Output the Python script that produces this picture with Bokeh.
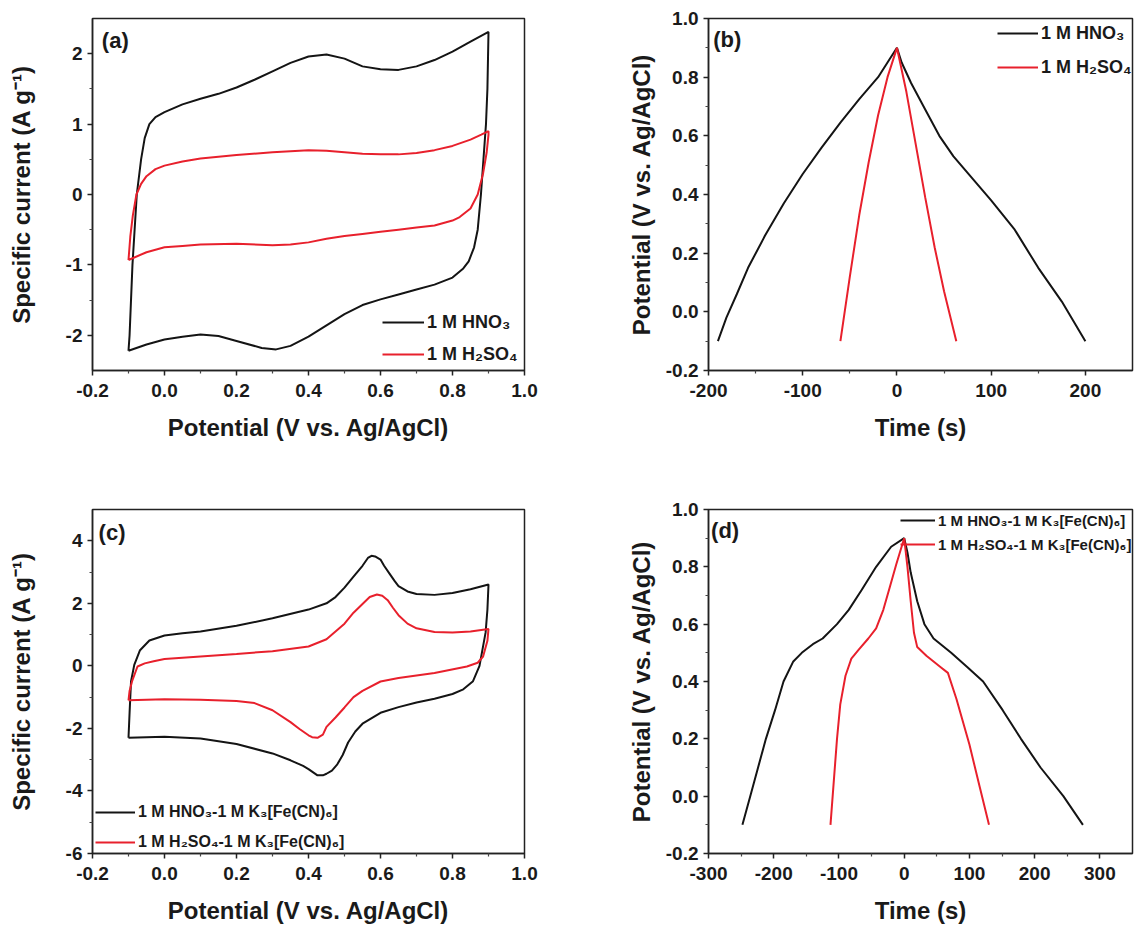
from bokeh.plotting import figure
from bokeh.models import (Range1d, FixedTicker, PrintfTickFormatter, Legend, LegendItem, Label)
from bokeh.layouts import column, row
from bokeh.embed import file_html
from bokeh.resources import INLINE

# ---------------- data ----------------
# (a) CV in acids
a_hno3_v = [-0.1, -0.097, -0.089, -0.077, -0.065, -0.055, -0.042, -0.025, 0.0, 0.05, 0.1, 0.15, 0.2, 0.25, 0.3,
            0.35, 0.4, 0.45, 0.5, 0.55, 0.6, 0.65, 0.7, 0.75, 0.8, 0.85, 0.9,
            0.897, 0.893, 0.886, 0.879, 0.87, 0.86, 0.845, 0.83, 0.8, 0.75, 0.7, 0.65, 0.6, 0.55, 0.5, 0.45, 0.4,
            0.35, 0.31, 0.27, 0.2, 0.15, 0.1, 0.05, 0.0, -0.05, -0.1]
a_hno3_i = [-2.22, -2.0, -1.0, 0.0, 0.5, 0.8, 1.0, 1.1, 1.17, 1.28, 1.36, 1.43, 1.52, 1.63, 1.75,
            1.87, 1.96, 1.99, 1.93, 1.82, 1.78, 1.77, 1.82, 1.91, 2.03, 2.17, 2.31,
            1.5, 1.0, 0.5, 0.0, -0.5, -0.75, -0.95, -1.05, -1.18, -1.28, -1.35, -1.42, -1.49, -1.57, -1.7, -1.86, -2.02,
            -2.15, -2.2, -2.18, -2.08, -2.01, -1.99, -2.02, -2.06, -2.13, -2.22]
a_h2so4_v = [-0.1, -0.095, -0.088, -0.078, -0.065, -0.05, -0.025, 0.0, 0.05, 0.1, 0.2, 0.3, 0.4, 0.45, 0.5, 0.55,
             0.6, 0.65, 0.7, 0.75, 0.8, 0.85, 0.88, 0.9,
             0.9, 0.895, 0.885, 0.87, 0.85, 0.82, 0.8, 0.75, 0.7, 0.65, 0.6, 0.55, 0.5, 0.45, 0.4, 0.35, 0.3,
             0.2, 0.1, 0.05, 0.0, -0.05, -0.1]
a_h2so4_i = [-0.93, -0.6, -0.3, 0.0, 0.15, 0.26, 0.36, 0.41, 0.47, 0.51, 0.56, 0.6, 0.63, 0.62, 0.6, 0.58,
             0.57, 0.57, 0.59, 0.63, 0.69, 0.78, 0.85, 0.9,
             0.85, 0.6, 0.3, 0.0, -0.2, -0.32, -0.37, -0.44, -0.47, -0.5, -0.53, -0.56, -0.59, -0.63, -0.68, -0.71, -0.72,
             -0.7, -0.71, -0.73, -0.75, -0.82, -0.93]

# (b) GCD in acids
b_hno3_t = [-190, -181, -170, -158, -140, -120, -100, -80, -60, -40, -20, -8, 0,
            5, 15, 30, 45, 60, 80, 100, 125, 150, 175, 200]
b_hno3_e = [-0.1, -0.02, 0.06, 0.15, 0.26, 0.37, 0.47, 0.56, 0.645, 0.725, 0.8, 0.86, 0.9,
            0.85, 0.78, 0.69, 0.6, 0.53, 0.455, 0.38, 0.28, 0.15, 0.035, -0.1]
b_h2so4_t = [-60, -50, -40, -30, -20, -10, 0, 10, 20, 30, 40, 50, 63]
b_h2so4_e = [-0.1, 0.12, 0.33, 0.51, 0.67, 0.8, 0.9, 0.75, 0.57, 0.39, 0.22, 0.07, -0.1]

# (c) CV with K3[Fe(CN)6]
c_hno3_v = [-0.1, -0.097, -0.093, -0.084, -0.068, -0.042, 0.0, 0.05, 0.1, 0.2, 0.3, 0.4, 0.45, 0.475, 0.5,
            0.525, 0.55, 0.565, 0.575, 0.585, 0.6, 0.61, 0.625, 0.64, 0.65, 0.675, 0.7, 0.75, 0.8, 0.85, 0.9,
            0.897, 0.892, 0.875, 0.857, 0.83, 0.8, 0.75, 0.7, 0.65, 0.6, 0.55, 0.53, 0.51, 0.495, 0.48,
            0.465, 0.45, 0.44, 0.425, 0.415, 0.4, 0.385, 0.35, 0.3, 0.2, 0.1, 0.0, -0.1]
c_hno3_i = [-2.3, -1.5, -0.5, 0.03, 0.5, 0.81, 0.97, 1.04, 1.1, 1.28, 1.52, 1.8, 2.0, 2.2, 2.5,
            2.85, 3.2, 3.45, 3.52, 3.5, 3.4, 3.2, 2.95, 2.7, 2.55, 2.38, 2.3, 2.27, 2.33, 2.45, 2.6,
            1.8, 1.07, 0.0, -0.49, -0.75, -0.9, -1.05, -1.17, -1.32, -1.5, -1.85, -2.1, -2.45, -2.85, -3.15,
            -3.35, -3.45, -3.5, -3.5, -3.42, -3.3, -3.2, -3.02, -2.8, -2.5, -2.32, -2.27, -2.3]
c_h2so4_v = [-0.1, -0.097, -0.09, -0.075, -0.055, -0.03, 0.0, 0.1, 0.2, 0.3, 0.4, 0.45, 0.5, 0.525, 0.55,
             0.57, 0.59, 0.605, 0.62, 0.635, 0.65, 0.675, 0.7, 0.75, 0.8, 0.85, 0.9,
             0.897, 0.885, 0.87, 0.84, 0.75, 0.65, 0.6, 0.55, 0.525, 0.5, 0.475, 0.45, 0.44, 0.425, 0.41,
             0.4, 0.375, 0.35, 0.3, 0.25, 0.2, 0.1, 0.0, -0.1]
c_h2so4_i = [-1.1, -0.8, -0.49, -0.02, 0.08, 0.15, 0.22, 0.3, 0.38, 0.47, 0.62, 0.85, 1.35, 1.7, 1.98,
             2.2, 2.28, 2.24, 2.1, 1.85, 1.62, 1.35, 1.2, 1.08, 1.07, 1.1, 1.18,
             0.8, 0.3, 0.1, -0.02, -0.23, -0.39, -0.5, -0.8, -1.0, -1.33, -1.65, -1.95, -2.2, -2.3, -2.28,
             -2.22, -2.02, -1.8, -1.42, -1.19, -1.12, -1.08, -1.07, -1.1]

# (d) GCD with K3[Fe(CN)6]
d_hno3_t = [-248, -236, -224, -212, -198, -185, -170, -157, -140, -125, -103, -85, -65, -43, -20, 0,
            5, 10, 20, 31, 45, 72, 97, 121, 151, 179, 209, 244, 274]
d_hno3_e = [-0.1, 0.0, 0.1, 0.2, 0.3, 0.4, 0.47, 0.5, 0.53, 0.55, 0.6, 0.65, 0.72, 0.8, 0.87, 0.9,
            0.85, 0.78, 0.68, 0.6, 0.55, 0.5, 0.45, 0.4, 0.3, 0.2, 0.1, 0.0, -0.1]
d_h2so4_t = [-113, -108, -103, -98, -90, -81, -70, -55, -43, -32, -22, -12, 0,
             5, 10, 15, 20, 34, 56, 67, 80, 100, 116, 130]
d_h2so4_e = [-0.1, 0.05, 0.2, 0.32, 0.42, 0.48, 0.51, 0.55, 0.585, 0.65, 0.73, 0.81, 0.9,
             0.8, 0.68, 0.57, 0.52, 0.49, 0.45, 0.43, 0.34, 0.18, 0.03, -0.1]

# ticks / labels
cv_x_ticks = [-0.2, 0.0, 0.2, 0.4, 0.6, 0.8, 1.0]
a_y_ticks = [-2, -1, 0, 1, 2]
c_y_ticks = [-6, -4, -2, 0, 2, 4]
gcd_y_ticks = [-0.2, 0.0, 0.2, 0.4, 0.6, 0.8, 1.0]
b_x_ticks = [-200, -100, 0, 100, 200]
d_x_ticks = [-300, -200, -100, 0, 100, 200, 300]

lab_hno3 = "1 M HNO\u2083"
lab_h2so4 = "1 M H\u2082SO\u2084"
lab_hno3_fe = "1 M HNO\u2083-1 M K\u2083[Fe(CN)\u2086]"
lab_h2so4_fe = "1 M H\u2082SO\u2084-1 M K\u2083[Fe(CN)\u2086]"
xlab_cv = "Potential (V vs. Ag/AgCl)"
ylab_cv = "Specific current (A g\u207b\u00b9)"
xlab_gcd = "Time (s)"
ylab_gcd = "Potential (V vs. Ag/AgCl)"

FONT = "Liberation Sans"
BLACK = "#141414"
RED = "#e8202c"


def minor(ticks, n=2):
    out = []
    step = (ticks[1] - ticks[0]) / n
    for t in ticks[:-1]:
        for k in range(1, n):
            out.append(t + k * step)
    return out


def make_fig(width, height, xr, yr, xticks, yticks, xfmt, yfmt, xlab, ylab,
             bl, br, bt, bb, ylab_standoff, xlab_standoff):
    p = figure(width=width, height=height, x_range=Range1d(*xr), y_range=Range1d(*yr),
               output_backend="svg", toolbar_location=None,
               min_border_left=bl, min_border_right=br, min_border_top=bt, min_border_bottom=bb)
    p.xgrid.visible = False
    p.ygrid.visible = False
    p.outline_line_color = "#222222"
    p.outline_line_width = 1.5
    p.background_fill_color = "white"
    p.border_fill_color = "white"
    p.xaxis.ticker = FixedTicker(ticks=xticks, minor_ticks=minor(xticks))
    p.yaxis.ticker = FixedTicker(ticks=yticks, minor_ticks=minor(yticks))
    p.xaxis.formatter = PrintfTickFormatter(format=xfmt)
    p.yaxis.formatter = PrintfTickFormatter(format=yfmt)
    for ax in (p.xaxis, p.yaxis):
        ax.axis_line_width = 1.5
        ax.axis_line_color = "#222222"
        ax.major_tick_line_width = 1.5
        ax.minor_tick_line_width = 1.2
        ax.major_tick_line_color = "#222222"
        ax.minor_tick_line_color = "#444444"
        ax.major_tick_in = 0
        ax.major_tick_out = 5
        ax.minor_tick_in = 0
        ax.minor_tick_out = 3
        ax.major_label_text_font = FONT
        ax.major_label_text_font_style = "bold"
        ax.major_label_text_font_size = "19px"
        ax.major_label_text_color = "#1a1a1a"
        ax.major_label_standoff = 5
        ax.axis_label_text_font = FONT
        ax.axis_label_text_font_style = "bold"
        ax.axis_label_text_font_size = "24px"
        ax.axis_label_text_color = "#1a1a1a"
    p.xaxis.major_label_standoff = 8
    p.xaxis.axis_label = xlab
    p.yaxis.axis_label = ylab
    p.yaxis.axis_label_standoff = ylab_standoff
    p.xaxis.axis_label_standoff = xlab_standoff
    return p


def add_legend(p, items, loc, glyph_w, item_h, spacing, fsize):
    leg = Legend(items=items, location=loc, glyph_width=glyph_w, glyph_height=item_h,
                 label_height=item_h, spacing=spacing, padding=0, margin=0,
                 label_standoff=3, border_line_color=None, background_fill_alpha=0,
                 label_text_font=FONT, label_text_font_style="bold",
                 label_text_font_size=fsize, label_text_color="#1a1a1a")
    p.add_layout(leg)


def add_panel_label(p, x, y, txt):
    p.add_layout(Label(x=x, y=y, text=txt, text_font=FONT, text_font_style="bold",
                       text_font_size="22px", text_baseline="top", text_align="left",
                       text_color="#1a1a1a"))


# ---------------- (a) ----------------
pa = make_fig(600, 468, (-0.2, 1.0), (-2.5, 2.5), cv_x_ticks, a_y_ticks, "%.1f", "%d",
              xlab_cv, ylab_cv, 92, 76, 18, 98, 28, 14)
ra1 = pa.line(a_hno3_v, a_hno3_i, line_color=BLACK, line_width=2)
ra2 = pa.line(a_h2so4_v, a_h2so4_i, line_color=RED, line_width=2)
add_legend(pa, [LegendItem(label=lab_hno3, renderers=[ra1]), LegendItem(label=lab_h2so4, renderers=[ra2])],
           (290, 0), 42, 32, 0, "18px")
add_panel_label(pa, -0.174, 2.36, "(a)")

# ---------------- (b) ----------------
pb = make_fig(534, 468, (-200, 250), (-0.2, 1.0), b_x_ticks, gcd_y_ticks, "%d", "%.1f",
              xlab_gcd, ylab_gcd, 108, 2, 18, 98, 8, 14)
rb1 = pb.line(b_hno3_t, b_hno3_e, line_color=BLACK, line_width=2)
rb2 = pb.line(b_h2so4_t, b_h2so4_e, line_color=RED, line_width=2)
add_legend(pb, [LegendItem(label=lab_hno3, renderers=[rb1]), LegendItem(label=lab_h2so4, renderers=[rb2])],
           (289, 288), 41, 30, 4, "18px")
add_panel_label(pb, -195, 0.972, "(b)")

# ---------------- (c) ----------------
pc = make_fig(600, 458, (-0.2, 1.0), (-6, 5), cv_x_ticks, c_y_ticks, "%.1f", "%d",
              xlab_cv, ylab_cv, 92, 76, 41, 65, 28, 14)
rc1 = pc.line(c_hno3_v, c_hno3_i, line_color=BLACK, line_width=2)
rc2 = pc.line(c_h2so4_v, c_h2so4_i, line_color=RED, line_width=2)
add_legend(pc, [LegendItem(label=lab_hno3_fe, renderers=[rc1]), LegendItem(label=lab_h2so4_fe, renderers=[rc2])],
           (3, -4), 40, 30, 0, "16px")
add_panel_label(pc, -0.183, 4.66, "(c)")

# ---------------- (d) ----------------
pd_ = make_fig(534, 458, (-300, 350), (-0.2, 1.0), d_x_ticks, gcd_y_ticks, "%d", "%.1f",
               xlab_gcd, ylab_gcd, 108, 2, 41, 65, 8, 14)
rd1 = pd_.line(d_hno3_t, d_hno3_e, line_color=BLACK, line_width=2)
rd2 = pd_.line(d_h2so4_t, d_h2so4_e, line_color=RED, line_width=2)
add_legend(pd_, [LegendItem(label=lab_hno3_fe, renderers=[rd1]), LegendItem(label=lab_h2so4_fe, renderers=[rd2])],
           (192, 297), 35, 24, 0, "15px")
add_panel_label(pd_, -296, 0.972, "(d)")

layout = column(row(pa, pb), row(pc, pd_))
open("out.html", "w").write(file_html(layout, INLINE))
